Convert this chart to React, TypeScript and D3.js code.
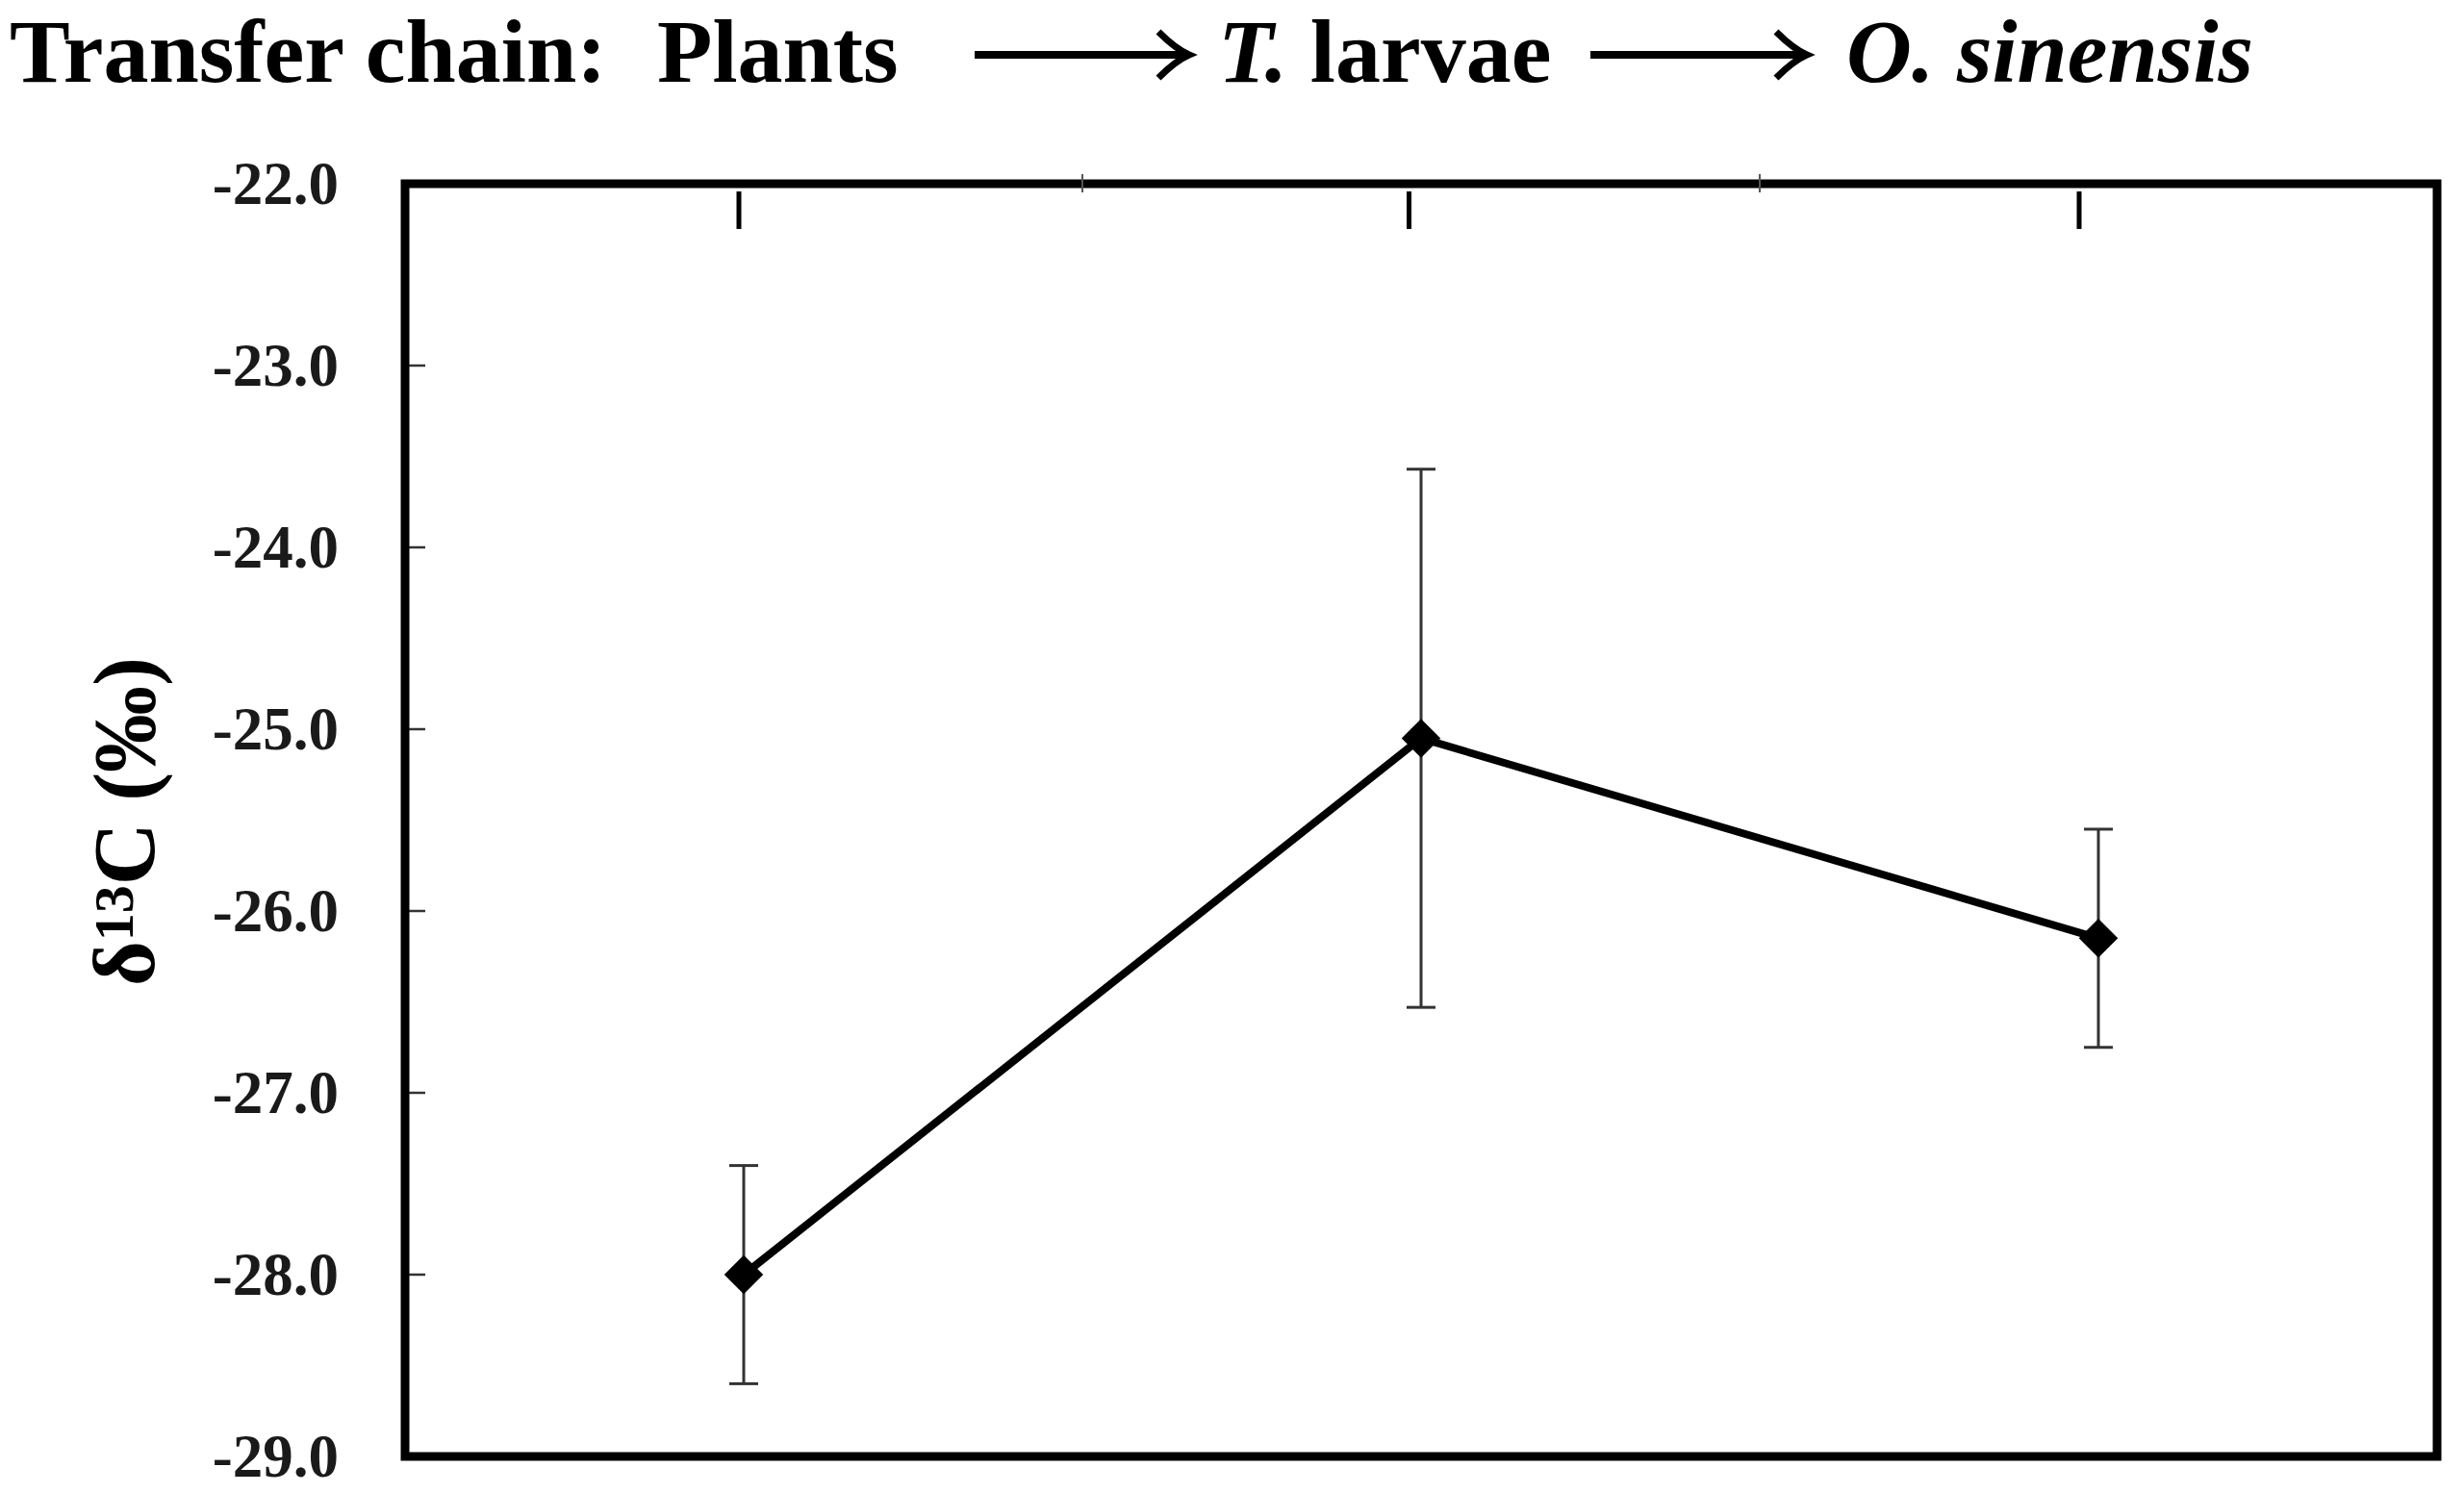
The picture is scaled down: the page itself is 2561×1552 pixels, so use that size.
import React, { useEffect } from "react";
import * as d3 from "d3";

const categories = ["Plants", "T. larvae", "O. sinensis"];
const meanValues = [-28.0, -25.05, -26.15];
const errorValues = [0.6, 1.48, 0.6];
const yTicks = [-22, -23, -24, -25, -26, -27, -28, -29];

const W = 2561;
const H = 1552;
const frame = { left: 421, top: 191, right: 2533, bottom: 1514 };

export default function App() {
  useEffect(() => {
    document.body.style.margin = "0";
  }, []);

  const x = d3
    .scaleBand<string>()
    .domain(categories)
    .range([frame.left, frame.right])
    .paddingInner(0)
    .paddingOuter(0);
  const xc = (c: string) => (x(c) as number) + x.bandwidth() / 2;
  const xTop = d3.scalePoint<string>().domain(categories).range([768, 2161]);
  const y = d3.scaleLinear().domain([-29, -22]).range([frame.bottom, frame.top]);

  const data = categories.map((c, i) => ({ c, v: meanValues[i], e: errorValues[i] }));
  const line = d3
    .line<{ c: string; v: number }>()
    .x((d) => xc(d.c))
    .y((d) => y(d.v));
  const diamond = d3.symbol().type(d3.symbolSquare).size(820)();

  const font = "'Liberation Serif', 'Times New Roman', serif";
  const boundaries = categories.slice(1).map((c) => x(c) as number);

  const arrow = (x0: number, x1: number, yy: number) => (
    <g>
      <line x1={x0} x2={x1 - 3} y1={yy} y2={yy} stroke="#000" strokeWidth={8} />
      <path
        d={`M${x1 - 32},${yy - 24} Q${x1 - 14},${yy - 6} ${x1},${yy} Q${x1 - 14},${yy + 6} ${x1 - 32},${yy + 24}`}
        fill="none"
        stroke="#000"
        strokeWidth={7}
      />
    </g>
  );

  return (
    <svg
      width={W}
      height={H}
      viewBox={`0 0 ${W} ${H}`}
      style={{ position: "absolute", left: 0, top: 0, background: "#fff" }}
    >
      <rect x={0} y={0} width={W} height={H} fill="#fff" />
      {/* Title */}
      <g fontFamily={font} fontWeight="bold" fontSize={94} fill="#000">
        <text x={10} y={85}>Transfer chain:</text>
        <text x={683} y={85}>Plants</text>
        <text x={1266} y={85}>
          <tspan fontStyle="italic">T.</tspan> larvae
        </text>
        <text x={1919} y={85} fontStyle="italic">O. sinensis</text>
      </g>
      {arrow(1013, 1236, 57)}
      {arrow(1653, 1878, 57)}

      {/* Y tick labels */}
      <g fontFamily={font} fontWeight="bold" fontSize={63} fill="#1a1a1a">
        {yTicks.map((t) => (
          <text key={t} x={352} y={y(t)} textAnchor="end" dominantBaseline="central">
            {t.toFixed(1)}
          </text>
        ))}
      </g>
      {/* Y tick marks inside */}
      {yTicks
        .filter((t) => t !== -22 && t !== -29)
        .map((t) => (
          <line key={t} x1={frame.left} x2={frame.left + 21} y1={y(t)} y2={y(t)} stroke="#333" strokeWidth={2.5} />
        ))}

      {/* Y axis label */}
      <text
        transform={`translate(160, 854) rotate(-90)`}
        textAnchor="middle"
        fontFamily={font}
        fontWeight="bold"
        fontSize={90}
        fill="#000"
      >
        δ<tspan fontSize={58} dy={-22}>13</tspan>
        <tspan dy={22}>C (‰)</tspan>
      </text>

      {/* Frame */}
      <rect
        x={frame.left}
        y={frame.top}
        width={frame.right - frame.left}
        height={frame.bottom - frame.top}
        fill="none"
        stroke="#000"
        strokeWidth={9}
      />
      {/* Top category ticks */}
      {categories.map((c) => (
        <line key={c} x1={xTop(c)} x2={xTop(c)} y1={199} y2={238} stroke="#000" strokeWidth={5} />
      ))}
      {boundaries.map((b, i) => (
        <line key={i} x1={b} x2={b} y1={181} y2={200} stroke="#555" strokeWidth={2} />
      ))}

      {/* Error bars */}
      {data.map((d) => (
        <g key={d.c} stroke="#333" strokeWidth={3}>
          <line x1={xc(d.c)} x2={xc(d.c)} y1={y(d.v + d.e)} y2={y(d.v - d.e)} />
          <line x1={xc(d.c) - 15} x2={xc(d.c) + 15} y1={y(d.v + d.e)} y2={y(d.v + d.e)} />
          <line x1={xc(d.c) - 15} x2={xc(d.c) + 15} y1={y(d.v - d.e)} y2={y(d.v - d.e)} />
        </g>
      ))}
      {/* Line */}
      <path d={line(data) || ""} fill="none" stroke="#000" strokeWidth={8} strokeLinejoin="round" />
      {/* Markers */}
      {data.map((d) => (
        <path
          key={d.c}
          d={diamond || ""}
          transform={`translate(${xc(d.c)},${y(d.v)}) rotate(45)`}
          fill="#000"
        />
      ))}
    </svg>
  );
}
